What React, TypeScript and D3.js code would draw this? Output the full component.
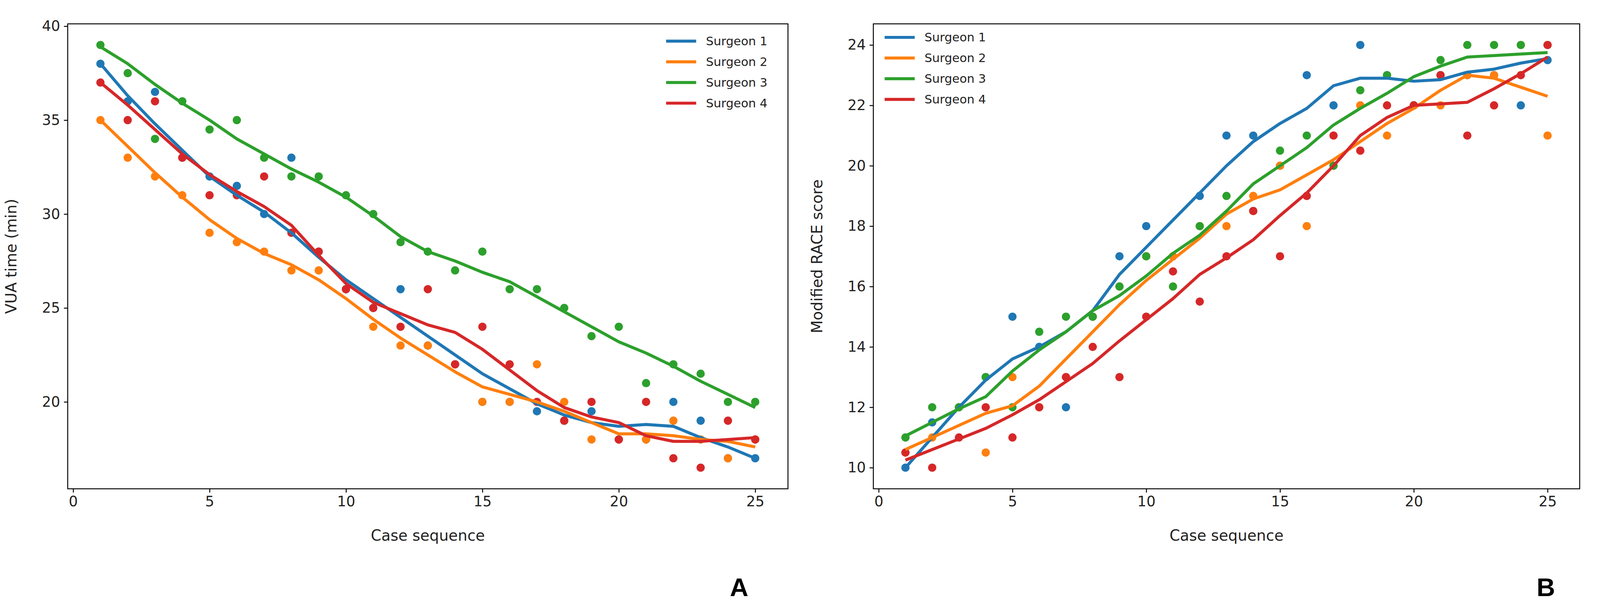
import React, { useEffect, useRef } from 'react';
import * as d3 from 'd3';

const cases = d3.range(1, 26);
const colors = ['#1f77b4', '#ff7f0e', '#2ca02c', '#d62728'];
const surgeons = ['Surgeon 1', 'Surgeon 2', 'Surgeon 3', 'Surgeon 4'];

// Panel A: VUA time (min)
const vuaPts1 = [38, 36, 36.5, 33, 32, 31.5, 30, 33, 28, 26, 25, 26, 23, 22, 20, 20, 19.5, 19, 19.5, 18, 18, 20, 19, 17, 17];
const vuaPts2 = [35, 33, 32, 31, 29, 28.5, 28, 27, 27, 26, 24, 23, 23, 22, 20, 20, 22, 20, 18, 18, 18, 19, 18, 17, 18];
const vuaPts3 = [39, 37.5, 34, 36, 34.5, 35, 33, 32, 32, 31, 30, 28.5, 28, 27, 28, 26, 26, 25, 23.5, 24, 21, 22, 21.5, 20, 20];
const vuaPts4 = [37, 35, 36, 33, 31, 31, 32, 29, 28, 26, 25, 24, 26, 22, 24, 22, 20, 19, 20, 18, 20, 17, 16.5, 19, 18];
const vuaFit1 = [38, 36.3, 34.8, 33.4, 32.0, 31.0, 30.1, 29.0, 27.7, 26.5, 25.5, 24.5, 23.5, 22.5, 21.5, 20.7, 19.9, 19.3, 18.9, 18.7, 18.8, 18.7, 18.1, 17.6, 17.0];
const vuaFit2 = [35, 33.6, 32.2, 30.9, 29.7, 28.7, 27.9, 27.3, 26.5, 25.5, 24.4, 23.4, 22.5, 21.6, 20.8, 20.4, 20.0, 19.5, 18.9, 18.3, 18.3, 18.2, 18.0, 17.9, 17.6];
const vuaFit3 = [38.9, 38.0, 36.9, 35.9, 35.0, 34.0, 33.2, 32.4, 31.7, 30.9, 29.9, 28.8, 28.0, 27.5, 26.9, 26.4, 25.6, 24.8, 24.0, 23.2, 22.6, 21.9, 21.1, 20.4, 19.7];
const vuaFit4 = [37, 35.8, 34.5, 33.2, 32.1, 31.2, 30.4, 29.4, 27.8, 26.3, 25.3, 24.7, 24.1, 23.7, 22.8, 21.7, 20.6, 19.7, 19.2, 18.9, 18.2, 17.9, 17.9, 18.0, 18.1];

// Panel B: Modified RACE score
const racePts1 = [10, 11.5, 12, 13, 15, 14, 12, 15, 17, 18, 17, 19, 21, 21, 20, 23, 22, 24, 23, 22, 23, 23, 23, 22, 23.5];
const racePts2 = [10.5, 11, 12, 10.5, 13, 12, 13, 15, 16, 17, 17, 18, 18, 19, 20, 18, 20, 22, 21, 22, 22, 23, 23, 24, 21];
const racePts3 = [11, 12, 12, 13, 12, 14.5, 15, 15, 16, 17, 16, 18, 19, 18.5, 20.5, 21, 20, 22.5, 23, 22, 23.5, 24, 24, 24, 24];
const racePts4 = [10.5, 10, 11, 12, 11, 12, 13, 14, 13, 15, 16.5, 15.5, 17, 18.5, 17, 19, 21, 20.5, 22, 22, 23, 21, 22, 23, 24];
const raceFit1 = [10.0, 11.0, 12.0, 12.9, 13.6, 14.0, 14.5, 15.2, 16.4, 17.3, 18.2, 19.1, 20.0, 20.8, 21.4, 21.9, 22.65, 22.9, 22.9, 22.8, 22.85, 23.1, 23.2, 23.4, 23.55];
const raceFit2 = [10.6, 11.0, 11.4, 11.8, 12.05, 12.7, 13.6, 14.5, 15.4, 16.2, 16.9, 17.6, 18.4, 18.9, 19.2, 19.7, 20.2, 20.8, 21.4, 21.9, 22.5, 23.0, 22.9, 22.6, 22.3];
const raceFit3 = [11.05, 11.5, 11.95, 12.35, 13.2, 13.9, 14.5, 15.2, 15.7, 16.35, 17.1, 17.7, 18.5, 19.4, 20.0, 20.6, 21.35, 21.9, 22.4, 22.95, 23.3, 23.6, 23.65, 23.7, 23.75];
const raceFit4 = [10.25, 10.6, 10.95, 11.3, 11.75, 12.25, 12.85, 13.45, 14.2, 14.9, 15.6, 16.4, 16.95, 17.55, 18.35, 19.1, 20.0, 21.0, 21.6, 22.0, 22.05, 22.1, 22.55, 23.05, 23.6];

const xTicks = [0, 5, 10, 15, 20, 25];
const vuaTicks = [20, 25, 30, 35, 40];
const raceTicks = [10, 12, 14, 16, 18, 20, 22, 24];

const font = 'DejaVu Sans, sans-serif';

interface PanelOpts {
  left: number;
  right: number;
  yDomain: [number, number];
  yTicks: number[];
  yLabel: string;
  yLabelX: number;
  pts: number[][];
  fits: number[][];
  legendLineX: number;
  legendY: number;
  letter: string;
  letterX: number;
}

function drawPanel(svg: d3.Selection<SVGSVGElement, unknown, null, undefined>, o: PanelOpts) {
  const top = 33;
  const bottom = 1270;
  const x = d3.scaleLinear().domain([-0.2, 26.2]).range([o.left, o.right]);
  const y = d3.scaleLinear().domain(o.yDomain).range([bottom, top]);
  const g = svg.append('g');

  o.pts.forEach((vals, s) => {
    g.append('g').selectAll('circle').data(vals).join('circle')
      .attr('cx', (_, i) => x(cases[i]))
      .attr('cy', d => y(d))
      .attr('r', 11)
      .attr('fill', colors[s]);
  });

  const line = d3.line<number>().x((_, i) => x(cases[i])).y(d => y(d));
  o.fits.forEach((vals, s) => {
    g.append('path').datum(vals)
      .attr('fill', 'none')
      .attr('stroke', colors[s])
      .attr('stroke-width', 8)
      .attr('stroke-linejoin', 'round')
      .attr('d', line);
  });

  g.append('rect')
    .attr('x', o.left).attr('y', top)
    .attr('width', o.right - o.left).attr('height', bottom - top)
    .attr('fill', 'none').attr('stroke', '#000').attr('stroke-width', 2.5);

  const xa = g.append('g').attr('transform', `translate(0,${bottom})`)
    .call(d3.axisBottom(x).tickValues(xTicks).tickSize(10).tickPadding(10).tickFormat(d3.format('d')));
  xa.select('.domain').remove();
  xa.selectAll('line').attr('stroke-width', 2.5);
  xa.selectAll('text').attr('font-size', 38).attr('font-family', font).attr('fill', '#222');

  const ya = g.append('g').attr('transform', `translate(${o.left},0)`)
    .call(d3.axisLeft(y).tickValues(o.yTicks).tickSize(10).tickPadding(10).tickFormat(d3.format('d')));
  ya.select('.domain').remove();
  ya.selectAll('line').attr('stroke-width', 2.5);
  ya.selectAll('text').attr('font-size', 38).attr('font-family', font).attr('fill', '#222');

  g.append('text')
    .attr('x', (o.left + o.right) / 2).attr('y', 1408)
    .attr('text-anchor', 'middle').attr('font-size', 40).attr('font-family', font).attr('fill', '#222')
    .text('Case sequence');

  g.append('text')
    .attr('transform', `translate(${o.yLabelX},${(top + bottom) / 2}) rotate(-90)`)
    .attr('text-anchor', 'middle').attr('font-size', 40).attr('font-family', font).attr('fill', '#222')
    .text(o.yLabel);

  surgeons.forEach((name, s) => {
    const ly = o.legendY + s * 55;
    g.append('line')
      .attr('x1', o.legendLineX).attr('x2', o.legendLineX + 80)
      .attr('y1', ly).attr('y2', ly)
      .attr('stroke', colors[s]).attr('stroke-width', 8);
    g.append('text')
      .attr('x', o.legendLineX + 106).attr('y', ly + 11)
      .attr('font-size', 32).attr('font-family', font).attr('fill', '#222')
      .text(name);
  });

  g.append('text')
    .attr('x', o.letterX).attr('y', 1555)
    .attr('text-anchor', 'middle').attr('font-size', 68).attr('font-weight', 'bold')
    .attr('font-family', 'Liberation Sans, Arial, sans-serif').attr('fill', '#000')
    .text(o.letter);
}

export default function App() {
  const ref = useRef<SVGSVGElement>(null);

  useEffect(() => {
    if (!ref.current) return;
    const svg = d3.select(ref.current);
    svg.selectAll('*').remove();

    drawPanel(svg, {
      left: 180, right: 2095,
      yDomain: [15.375, 40.125], yTicks: vuaTicks, yLabel: 'VUA time (min)', yLabelX: 44,
      pts: [vuaPts1, vuaPts2, vuaPts3, vuaPts4],
      fits: [vuaFit1, vuaFit2, vuaFit3, vuaFit4],
      legendLineX: 1771, legendY: 79, letter: 'A', letterX: 1965,
    });
    drawPanel(svg, {
      left: 2322, right: 4200,
      yDomain: [9.3, 24.7], yTicks: raceTicks, yLabel: 'Modified RACE score', yLabelX: 2186,
      pts: [racePts1, racePts2, racePts3, racePts4],
      fits: [raceFit1, raceFit2, raceFit3, raceFit4],
      legendLineX: 2352, legendY: 69, letter: 'B', letterX: 4110,
    });
  }, []);

  return (
    <svg ref={ref} viewBox="0 0 4254 1578"
      style={{ position: 'absolute', left: 0, top: 0, width: '100vw', height: '100vh', display: 'block', background: '#fff' }} />
  );
}
